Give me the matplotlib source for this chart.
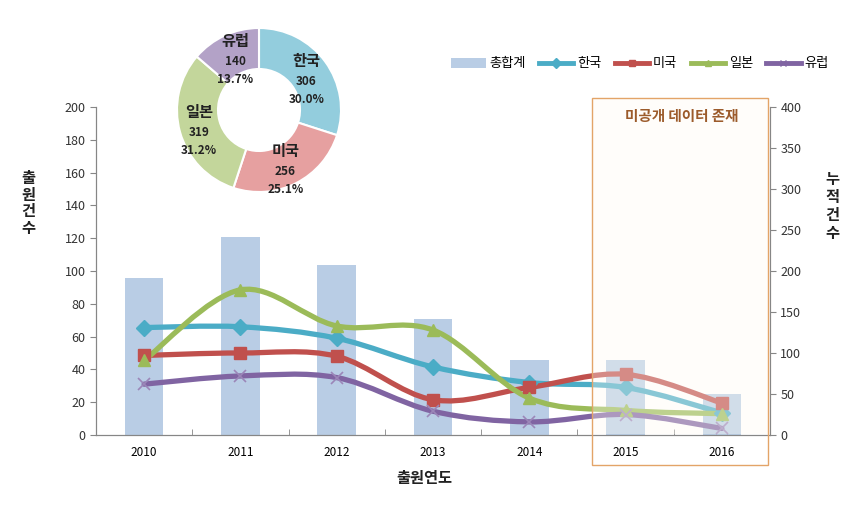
import matplotlib
matplotlib.use("Agg")
import matplotlib.pyplot as plt
import numpy as np
from matplotlib.path import Path
from matplotlib.patches import PathPatch, Rectangle, Patch
from matplotlib.lines import Line2D

plt.rcParams['font.family'] = ['Noto Sans CJK KR', 'DejaVu Sans']

years = ['2010', '2011', '2012', '2013', '2014', '2015', '2016']
total = [191, 241, 207, 142, 92, 92, 50]
korea = [65.5, 66, 59, 41.5, 32, 29, 13.5]
usa = [48.5, 50, 48, 21.5, 29, 37, 19.5]
japan = [45.5, 88.5, 66.5, 64, 22.5, 15, 13]
europe = [31, 36, 35, 14.5, 8, 12.5, 4]

pie_labels = ['한국', '미국', '일본', '유럽']
pie_values = [306, 256, 319, 140]

colors = {'한국': '#4BACC6', '미국': '#C0504D', '일본': '#9BBB59', '유럽': '#8064A2'}
pie_colors = ['#93CDDD', '#E6A0A0', '#C3D69B', '#B3A2C7']

W, H = 856, 505
fig = plt.figure(figsize=(W / 100, H / 100), dpi=100)

def fx(px):
    return px / W

def fy(py):
    return (H - py) / H

ax = fig.add_axes([fx(96), fy(435), fx(770) - fx(96), fy(107) - fy(435)])
ax2 = ax.twinx()

x = np.arange(len(years))

# bars on the right (cumulative) axis
ax2.bar(x, total, width=0.4, color='#B9CDE5', edgecolor='none', zorder=1)
ax2.bar(x + 0.215, total, width=0.03, color='white', edgecolor='none', zorder=1)
ax2.set_ylim(0, 400)
ax2.set_yticks(range(0, 401, 50))

ax.set_ylim(0, 200)
ax.set_yticks(range(0, 201, 20))
ax.set_xlim(-0.5, len(years) - 0.5)
ax.set_xticks(x)
ax.set_xticklabels(years)
ax.set_xticks(np.arange(-0.5, len(years)), minor=True)
ax.tick_params(axis='x', which='major', length=0, pad=8, labelsize=8.5)
ax.tick_params(axis='x', which='minor', length=4, direction='in', color='#868686')
ax.tick_params(axis='y', length=4, direction='out', color='#868686', labelsize=9, labelcolor='#333333')
ax2.tick_params(axis='y', length=4, direction='out', color='#868686', labelsize=9, labelcolor='#333333')

for a in (ax, ax2):
    a.spines['top'].set_visible(False)
    for s in ['left', 'right', 'bottom']:
        a.spines[s].set_color('#868686')
ax2.spines['right'].set_color('#C8A27A')

ax.set_zorder(ax2.get_zorder() + 1)
ax.patch.set_visible(False)


def smooth_path(xs, ys):
    pts = np.column_stack([xs, ys]).astype(float)
    n = len(pts)
    verts = [pts[0]]
    codes = [Path.MOVETO]
    for i in range(n - 1):
        p0 = pts[i - 1] if i > 0 else pts[i]
        p1 = pts[i]
        p2 = pts[i + 1]
        p3 = pts[i + 2] if i + 2 < n else pts[i + 1]
        c1 = p1 + (p2 - p0) / 6.0
        c2 = p2 - (p3 - p1) / 6.0
        verts += [c1, c2, p2]
        codes += [Path.CURVE4] * 3
    return Path(verts, codes)

series = [('한국', korea, 'D'), ('미국', usa, 's'), ('일본', japan, '^'), ('유럽', europe, 'x')]
for name, vals, mk in series:
    c = colors[name]
    p = smooth_path(x, vals)
    ax.add_patch(PathPatch(p, facecolor='none', edgecolor=c, lw=3.8, zorder=3,
                           capstyle='round', joinstyle='round'))
    if mk == 'x':
        ax.plot(x, vals, ls='none', marker='x', ms=9, mew=1.2, color='#9B86B8', zorder=4)
    else:
        ax.plot(x, vals, ls='none', marker=mk, ms=8 if mk != '^' else 9, color=c,
                mec=c, zorder=4)

# faded "undisclosed data" region
box = Rectangle((fx(592), fy(434)), fx(768) - fx(592), fy(98) - fy(434),
                transform=fig.transFigure, facecolor='#FFFBF3', alpha=0.35,
                edgecolor='none', zorder=10)
fig.add_artist(box)
box_edge = Rectangle((fx(592), fy(465)), fx(768) - fx(592), fy(98) - fy(465),
                     transform=fig.transFigure, facecolor='none',
                     edgecolor='#E3A468', lw=1.0, zorder=11)
fig.add_artist(box_edge)
fig.text(fx(682), fy(116), '미공개 데이터 존재', ha='center', va='center',
         fontsize=10.5, fontweight='bold', color='#9C5B2B', style='italic', zorder=12)

# axis titles
fig.text(fx(424), fy(478), '출원연도', ha='center', va='center', fontsize=11,
         fontweight='bold', color='#222222')
fig.text(fx(28), fy(203), '출\n원\n건\n수', ha='center', va='center', fontsize=11,
         fontweight='bold', color='#222222', linespacing=1.05)
fig.text(fx(832), fy(206), '누\n적\n건\n수', ha='center', va='center', fontsize=11,
         fontweight='bold', color='#222222', linespacing=1.15)

# legend
handles = [Patch(facecolor='#B9CDE5', edgecolor='none')]
for name, vals, mk in series:
    handles.append(Line2D([], [], color=colors[name], lw=3.5, marker=mk,
                          ms=5, mew=1))
leg = fig.legend(handles, ['총합계'] + pie_labels, loc='center', bbox_to_anchor=(fx(640), fy(64)),
                 ncol=5, frameon=False, fontsize=9.5, handlelength=2.6, handletextpad=0.3,
                 columnspacing=1.0)

# donut inset
cx, cy, r = 259, 110, 82
pax = fig.add_axes([fx(cx - r), fy(cy + r), 2 * r / W, 2 * r / H])
wedges, _ = pax.pie(pie_values, colors=pie_colors, startangle=90, counterclock=False,
                    radius=1.0, wedgeprops=dict(width=0.5, edgecolor='white', linewidth=1.5))
pax.set_xlim(-1, 1)
pax.set_ylim(-1, 1)
pax.set_aspect('equal')
pax.axis('off')
total_pie = sum(pie_values)
label_pos = [(0.58, 0.6), (0.32, -0.5), (-0.73, -0.02), (-0.29, 0.84)]
for name, v, (lx, ly) in zip(pie_labels, pie_values, label_pos):
    pct = 100.0 * v / total_pie
    pax.text(lx, ly, name, ha='center', va='center', fontsize=11,
             fontweight='bold', color='#222222')
    pax.text(lx, ly - 0.25, str(v), ha='center', va='center', fontsize=8.5,
             fontweight='bold', color='#222222')
    pax.text(lx, ly - 0.47, f'{pct:.1f}%', ha='center', va='center', fontsize=8.5,
             fontweight='bold', color='#222222')

fig.savefig('out.png', dpi=100)
